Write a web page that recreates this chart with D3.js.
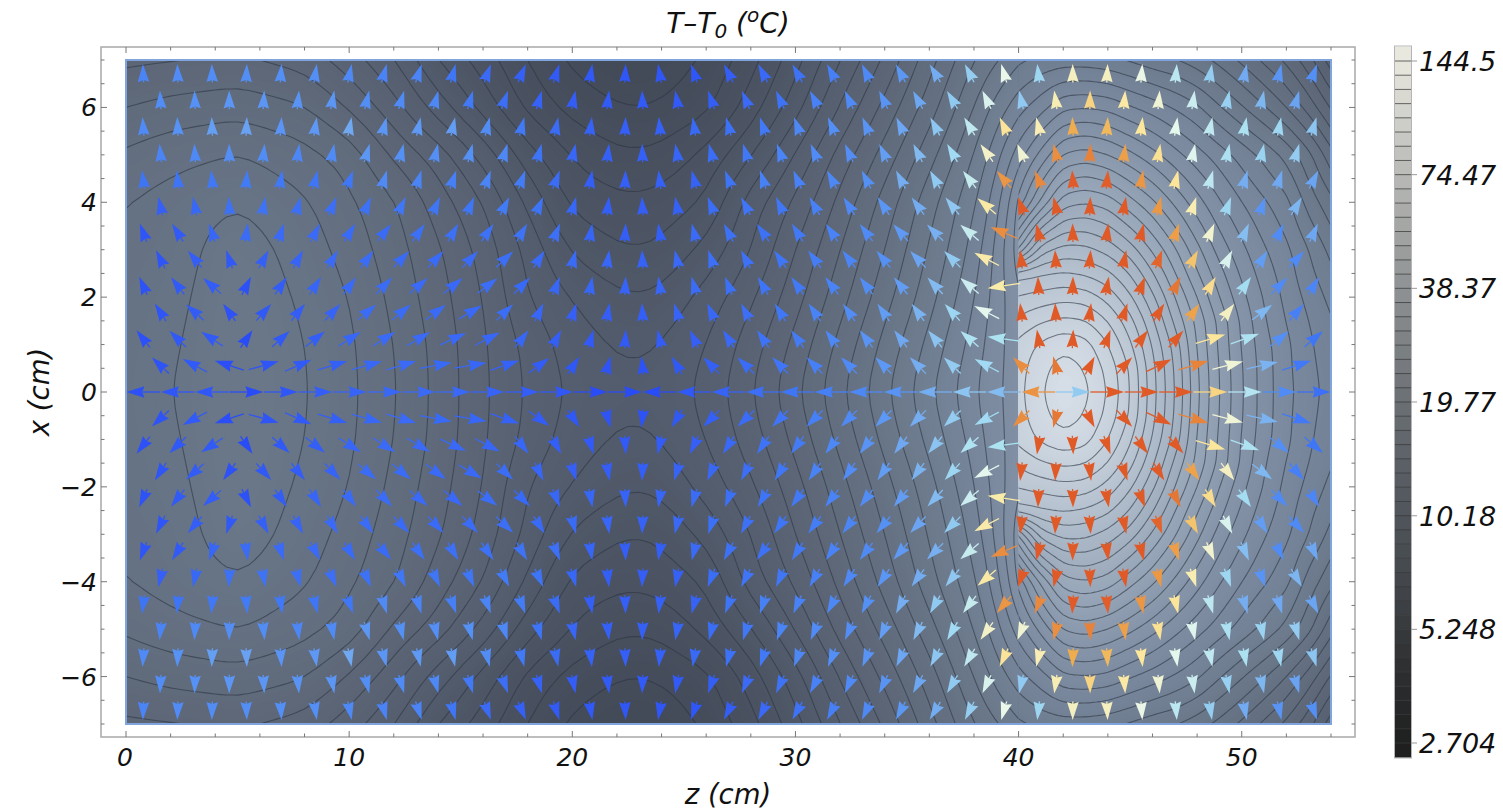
<!DOCTYPE html>
<html><head><meta charset="utf-8">
<script src="https://cdnjs.cloudflare.com/ajax/libs/d3/7.8.5/d3.min.js"></script>
<style>
html,body{margin:0;padding:0;background:#fff;overflow:hidden}
text{font-family:"DejaVu Sans";font-style:italic;fill:#111}
</style></head><body><svg id="c" width="1503" height="810"></svg>
<script>
// Temperature field, as colour-bar level numbers (0 = 2.704, 48 = 144.54).
const xRows=[0,1,2,3,4,5,6,7];
const zLeft=[0,2,5,8,10,12,14,16,18,20,22,23,24,26,28,30,32,34,36,38,39,40];
const leftX0=[23.55,23.97,24.8,24.1,23.25,22.1,20.7,19.2,17.85,16.8,16.3,16.25,16.4,17.3,18.9,20.8,22.8,24.8,26.8,28.9,29.8,30.6];
const leftX1=[23.5,23.85,24.8,24.03,23.2,22.0,20.65,19.15,17.7,16.5,15.9,15.85,16.05,17.0,18.5,20.3,22.3,24.3,26.3,28.4,29.7,30.6];
const leftX2=[23.4,23.7,24.7,23.85,23.0,21.75,20.4,19.0,17.0,15.95,15.2,15.08,15.25,16.4,17.8,19.6,21.6,23.6,25.6,27.9,29.5,30.8];
const leftX3=[23.25,23.5,24.6,23.55,22.6,21.45,20.15,18.65,16.7,14.85,14.1,14.02,14.2,15.3,17.0,19.0,21.0,23.0,25.1,27.3,29.2,31.6];
const leftX4=[23.0,23.4,23.95,23.15,22.2,21.15,19.5,18.05,15.8,13.7,13.25,13.2,13.4,14.1,16.5,18.2,20.3,22.4,24.6,26.8,28.4,31.3];
const leftX5=[22.2,22.65,23.1,22.35,21.6,19.8,18.55,16.7,14.4,12.9,12.2,12.15,12.3,13.3,14.9,17.1,19.4,21.4,23.6,26.0,27.6,29.5];
const leftX6=[21.0,21.35,21.6,21.1,19.9,18.4,16.5,14.6,12.7,11.6,11.05,10.95,11.1,11.7,13.45,15.55,18.1,20.3,22.5,25.0,26.4,27.6];
const leftX7=[19.8,19.95,20.2,19.6,18.5,17.1,14.95,13.55,11.95,10.8,10.2,10.1,10.4,11.15,12.6,14.6,17.0,19.2,21.6,24.0,24.9,25.8];
const leftField=[leftX0,leftX1,leftX2,leftX3,leftX4,leftX5,leftX6,leftX7];

const xRowsRight=[0,0.5,1,1.5,2,2.5,3,4,5,6,7];
const zRight=[40,41,42,43,44,45,46,47,48,49,50,51,52,53,54];
const rightX00=[45.7,46.9,47.75,47.25,45.95,44,41.4,39,36.2,34,32.1,30.5,29.3,28.4,27.6];
const rightX05=[45.6,46.7,47.45,46.95,45.7,43.9,41.3,38.9,36.1,33.95,32.05,30.5,29.25,28.3,27.5];
const rightX10=[45.3,46.2,46.75,46.4,45.05,43.2,40.9,38.6,35.9,33.8,31.9,30.4,29.2,28.2,27.3];
const rightX15=[44.2,44.9,45.25,45.05,44,42.35,40.2,37.75,35.7,33.7,31.8,30.1,28.95,28,27.1];
const rightX20=[43.1,43.4,43.7,43.55,42.65,41.2,39.25,37,35,33,31.3,29.9,28.7,27.7,26.7];
const rightX25=[41.6,41.9,42.1,41.85,41.25,39.95,38.1,36.05,34.1,32.35,30.8,29.5,28.5,27.3,26.25];
const rightX30=[36,39.6,40.4,40.3,39.65,38.5,36.85,35.15,33.3,31.6,30.25,29.1,28.25,27,25.7];
const rightX40=[31.3,34.2,36.6,36.95,36.55,35.35,34.2,32.8,31.4,30.1,29,28.15,27.3,25.6,24.3];
const rightX50=[29.5,31.3,33.1,33.45,33,32.25,31.35,30.35,29.4,28.5,27.6,26.7,25.7,24.3,22.4];
const rightX60=[27.6,28.6,29.8,29.95,29.75,29.1,28.55,27.9,27.2,26.1,25.1,24.1,23,21.6,19.9];
const rightX70=[25.8,26.3,26.5,26.5,26.3,25.9,25.4,25.1,24.5,23.7,22.8,21.8,20.8,19.4,17.5];
const rightField=[rightX00,rightX05,rightX10,rightX15,rightX20,rightX25,rightX30,rightX40,rightX50,rightX60,rightX70];

const T_MIN=2.704,T_MAX=144.54,LEVELS=48;
const plotShadeN=[0,10,16,20,24,28,32,36,40,44,48];
const plotShadeC=["#262a32","#424957","#535c6c","#5d6778","#687586","#76859a","#8695a9","#98a7b9","#abb8c7","#c1ccd8","#d8e0e8"];
const barShadeN=[0,6,12,18,24,30,36,42,48];
const barShadeC=["#1f1f1f","#303234","#45494e","#565b62","#6b7075","#85898c","#a2a4a3","#c4c5c0","#e8e8df"];
const fluxStops=[0.25,0.7,1.3,1.8,2.2,2.8,3.5,4.5,5.5,8];
const fluxColors=["#2a4cf6","#3560f6","#4078f6","#5590f5","#78b0f0","#a6dff2","#eaf8ec","#fce89e","#f0b050","#e05a28"];
const rightConductivity=0.55;
const barTicks=[144.54,74.47,38.37,19.77,10.18,5.248,2.704];
const barTickText=["144.5","74.47","38.37","19.77","10.18","5.248","2.704"];
const zTicks=[0,10,20,30,40,50];
const xTicks=[-6,-4,-2,0,2,4,6];

const svg=d3.select("#c");
const X=d3.scaleLinear().domain([0,54]).range([126,1331]);
const Y=d3.scaleLinear().domain([-7,7]).range([724,60]);
const plotColor=d3.scaleLinear().domain(plotShadeN).range(plotShadeC).clamp(true);
const barColor=d3.scaleLinear().domain(barShadeN).range(barShadeC).clamp(true);
const fluxColor=d3.scaleLog().domain(fluxStops).range(fluxColors).clamp(true);
const levelToT=n=>T_MIN*Math.pow(T_MAX/T_MIN,n/LEVELS);

const defs=svg.append("defs");
function clip(id,z0,z1){defs.append("clipPath").attr("id",id).append("rect")
  .attr("x",X(z0)).attr("y",Y(7)).attr("width",X(z1)-X(z0)).attr("height",Y(-7)-Y(7));}
clip("cl",0,40);clip("cr",40,54);

const TAPS=[[-2,1/16],[-1,4/16],[0,6/16],[1,4/16],[2,1/16]];
function makeDomain(zs,xs,rows,stepZ,stepX,blurZ,blurX){
  const raw=(z,x)=>{
    const ax=Math.abs(x);
    const i=Math.max(0,Math.min(d3.bisectRight(zs,z)-1,zs.length-2));
    const j=Math.max(0,Math.min(d3.bisectRight(xs,ax)-1,xs.length-2));
    const u=(z-zs[i])/(zs[i+1]-zs[i]),v=(ax-xs[j])/(xs[j+1]-xs[j]);
    return (1-v)*((1-u)*rows[j][i]+u*rows[j][i+1])+v*((1-u)*rows[j+1][i]+u*rows[j+1][i+1]);
  };
  const smooth=(z,x)=>{
    let s=0;
    for(const [a,wa] of TAPS) for(const [b,wb] of TAPS) s+=wa*wb*raw(z+a*blurZ,x+b*blurX);
    return s;
  };
  return {zs,stepZ,stepX,smooth};
}
const leftDomain=makeDomain(zLeft,xRows,leftField,0.25,0.125,0.55,0.28);
const rightDomain=makeDomain(zRight,xRowsRight,rightField,0.125,0.0875,0.25,0.12);

function drawDomain(dom,clipId){
  const z0=dom.zs[0],z1=dom.zs[dom.zs.length-1];
  const nz=Math.round((z1-z0)/dom.stepZ)+1,nx=Math.round(14/dom.stepX)+1;
  const flat=new Float64Array(nz*nx);
  for(let j=0;j<nx;j++)for(let i=0;i<nz;i++) flat[j*nz+i]=dom.smooth(z0+i*dom.stepZ,7-j*dom.stepX);
  const sz=d3.scaleLinear().domain([0.5,nz-0.5]).range([z0,z1]);
  const sy=d3.scaleLinear().domain([0.5,nx-0.5]).range([7,-7]);
  const g=svg.append("g").attr("clip-path",`url(#${clipId})`);
  const path=d3.geoPath(d3.geoTransform({point(a,b){this.stream.point(X(sz(a)),Y(sy(b)));}}));
  const bands=d3.contours().size([nz,nx]).thresholds(d3.range(8,48.5,0.2))(flat);
  g.append("rect").attr("x",X(z0)).attr("y",60).attr("width",X(z1)-X(z0)).attr("height",664)
    .attr("fill",plotColor(d3.min(flat)));
  g.selectAll("path.b").data(bands).join("path").attr("class","b")
    .attr("d",path).attr("fill",d=>plotColor(d.value));
  const lines=d3.contours().size([nz,nx]).thresholds(d3.range(1,48))(flat);
  g.selectAll("path.l").data(lines).join("path").attr("class","l")
    .attr("d",path).attr("fill","none").attr("stroke","#2d3642").attr("stroke-opacity",0.6).attr("stroke-width",1.1);
}
drawDomain(leftDomain,"cl");
drawDomain(rightDomain,"cr");

function field(z,x){
  const left=z<40,dom=left?leftDomain:rightDomain;
  const dz=0.3,dx=0.15;
  return {n:dom.smooth(z,x),
    gz:(dom.smooth(z+dz,x)-dom.smooth(z-dz,x))/(2*dz),
    gx:(dom.smooth(z,x+dx)-dom.smooth(z,x-dx))/(2*dx),
    k:left?1:rightConductivity};
}
const ROWS=25,COLS=35;
const arrowPts=[];
for(let r=0;r<ROWS;r++){
  const x=r===12?0:7-(r+0.5)*14/ROWS;
  const cnt=r%2?COLS-1:COLS;
  for(let c=0;c<cnt;c++) arrowPts.push({z:(54/COLS)*(c+(r%2?1:0.5)),x});
}
const ag=svg.append("g");
const HEAD=18,HALF=5.8,NOTCH=16;
arrowPts.forEach(p=>{
  const f=field(p.z,p.x);
  const vz=-f.gz,vx=p.x===0?0:-f.gx;
  const sx=vz/54,sy=vx/14,m=Math.hypot(sx,sy)||1;
  const ux=sx/m,uy=sy/m;
  const dx=ux*33.7,dy=-uy*18.6;
  const L=Math.hypot(dx,dy)||1,ex=dx/L,ey=dy/L;
  const cx=X(p.z),cy=Y(p.x);
  const tip=[cx+dx/2,cy+dy/2],tail=[cx-dx/2,cy-dy/2];
  const base=[tip[0]-ex*HEAD,tip[1]-ey*HEAD],notch=[tip[0]-ex*NOTCH,tip[1]-ey*NOTCH];
  const q=f.k*levelToT(f.n)*Math.hypot(vz,vx)*Math.log(T_MAX/T_MIN)/LEVELS;
  const col=fluxColor(Math.max(q,0.25));
  if(L>HEAD) ag.append("line").attr("x1",tail[0]).attr("y1",tail[1]).attr("x2",notch[0]).attr("y2",notch[1])
    .attr("stroke",col).attr("stroke-width",1.3);
  ag.append("path").attr("fill",col)
    .attr("d",d3.line()([tip,[base[0]-ey*HALF,base[1]+ex*HALF],notch,[base[0]+ey*HALF,base[1]-ex*HALF]])+"Z");
});

// Plot frames and ticks
svg.append("rect").attr("x",X(0)).attr("y",60).attr("width",X(54)-X(0)).attr("height",664)
  .attr("fill","none").attr("stroke","#7fa5dc").attr("stroke-width",2);
svg.append("rect").attr("x",101).attr("y",47).attr("width",1254).attr("height",690)
  .attr("fill","none").attr("stroke","#a8a8a8").attr("stroke-width",1.5);
const tk=svg.append("g").attr("stroke","#777").attr("stroke-width",1);
d3.range(0,55,2).forEach(z=>{const l=z%10===0?6:3.5;
  tk.append("line").attr("x1",X(z)).attr("x2",X(z)).attr("y1",47).attr("y2",47+l);
  tk.append("line").attr("x1",X(z)).attr("x2",X(z)).attr("y1",737).attr("y2",737-l);});
d3.range(-7,7.01,0.5).forEach(x=>{const l=x%2===0?6:3.5;
  tk.append("line").attr("y1",Y(x)).attr("y2",Y(x)).attr("x1",101).attr("x2",101+l);
  tk.append("line").attr("y1",Y(x)).attr("y2",Y(x)).attr("x1",1355).attr("x2",1355-l);});
svg.append("g").selectAll("text").data(zTicks).join("text")
  .attr("x",d=>X(d)-(d===0?1:0)).attr("y",766).attr("text-anchor","middle").attr("font-size",25).text(d=>d);
svg.append("g").selectAll("text").data(xTicks).join("text")
  .attr("x",97).attr("y",d=>Y(d)+9).attr("text-anchor","end").attr("font-size",25)
  .text(d=>d<0?"\u2212"+(-d):d);
svg.append("text").attr("x",728).attr("y",804).attr("text-anchor","middle").attr("font-size",27.5).text("z (cm)");
svg.append("text").attr("transform","translate(49,392) rotate(-90)").attr("text-anchor","middle").attr("font-size",27.5).text("x (cm)");
const title=svg.append("text").attr("x",728).attr("y",33).attr("text-anchor","middle").attr("font-size",28);
title.append("tspan").text("T\u2013T");
title.append("tspan").attr("dy",5).attr("font-size",20).text("0");
title.append("tspan").attr("dy",-5).text(" (");
title.append("tspan").attr("dy",-11).attr("font-size",20).text("o");
title.append("tspan").attr("dy",11).text("C)");

// Colour bar
const barY=d3.scaleLog().domain([T_MIN,T_MAX]).range([743,61]);
const bar=svg.append("g");
const cells=d3.range(-1,49);
const cellH=(barY(T_MIN)-barY(T_MAX))/LEVELS;
bar.selectAll("rect").data(cells).join("rect")
  .attr("x",1395).attr("width",16).attr("y",n=>barY(levelToT(n+1))).attr("height",cellH+0.5)
  .attr("fill",n=>barColor(n+0.5));
bar.append("g").selectAll("line").data(d3.range(0,49)).join("line")
  .attr("x1",1395).attr("x2",1411).attr("y1",n=>barY(levelToT(n))).attr("y2",n=>barY(levelToT(n)))
  .attr("stroke","#3a3a3a").attr("stroke-opacity",0.75).attr("stroke-width",1);
bar.append("rect").attr("x",1394.5).attr("y",46).attr("width",17).attr("height",712).attr("fill","none").attr("stroke","#b5b5b5").attr("stroke-width",1);
bar.append("g").selectAll("line").data(barTicks).join("line")
  .attr("x1",1411).attr("x2",1417).attr("y1",d=>barY(d)).attr("y2",d=>barY(d)).attr("stroke","#999");
bar.append("g").selectAll("text").data(barTicks).join("text")
  .attr("x",1419).attr("y",d=>barY(d)+10).attr("font-size",27).text((d,i)=>barTickText[i]);
</script></body></html>
